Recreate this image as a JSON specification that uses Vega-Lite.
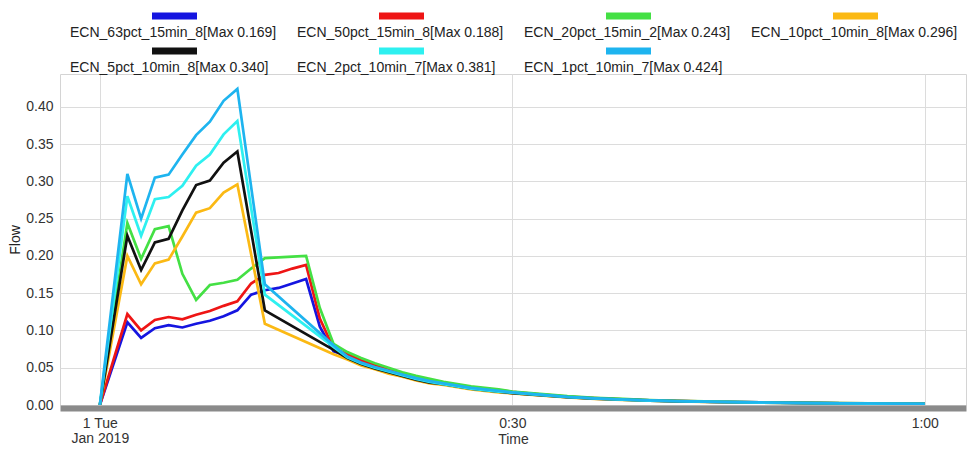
{
  "$schema": "https://vega.github.io/schema/vega-lite/v6.json",
  "width": 906,
  "height": 331,
  "autosize": {"type": "none"},
  "padding": {"left": 60, "top": 74, "right": 3, "bottom": 46},
  "background": "white",
  "config": {"view": {"stroke": "#d4d4d4"}, "font": "Liberation Sans"},
  "datasets": {
    "names": [
      {"k": "a", "name": "ECN_63pct_15min_8[Max 0.169]"},
      {"k": "b", "name": "ECN_50pct_15min_8[Max 0.188]"},
      {"k": "c", "name": "ECN_20pct_15min_2[Max 0.243]"},
      {"k": "d", "name": "ECN_10pct_10min_8[Max 0.296]"},
      {"k": "e", "name": "ECN_5pct_10min_8[Max 0.340]"},
      {"k": "f", "name": "ECN_2pct_10min_7[Max 0.381]"},
      {"k": "g", "name": "ECN_1pct_10min_7[Max 0.424]"}
    ]
  },
  "data": {
    "values": [
      {"t": 0, "a": 0, "b": 0, "c": 0, "d": 0, "e": 0, "f": 0, "g": 0},
      {"t": 2, "a": 0.111, "b": 0.122, "c": 0.244, "d": 0.200, "e": 0.227, "f": 0.280, "g": 0.310},
      {"t": 3, "a": 0.090, "b": 0.100, "c": 0.196, "d": 0.162, "e": 0.181, "f": 0.227, "g": 0.250},
      {"t": 4, "a": 0.103, "b": 0.114, "c": 0.236, "d": 0.190, "e": 0.218, "f": 0.276, "g": 0.305},
      {"t": 5, "a": 0.107, "b": 0.118, "c": 0.240, "d": 0.195, "e": 0.223, "f": 0.279, "g": 0.309},
      {"t": 6, "a": 0.104, "b": 0.115, "c": 0.176, "d": 0.226, "e": 0.261, "f": 0.294, "g": 0.336},
      {"t": 7, "a": 0.109, "b": 0.121, "c": 0.141, "d": 0.258, "e": 0.295, "f": 0.321, "g": 0.362},
      {"t": 8, "a": 0.113, "b": 0.126, "c": 0.161, "d": 0.264, "e": 0.301, "f": 0.336, "g": 0.380},
      {"t": 9, "a": 0.119, "b": 0.133, "c": 0.164, "d": 0.285, "e": 0.325, "f": 0.363, "g": 0.408},
      {"t": 10, "a": 0.127, "b": 0.139, "c": 0.168, "d": 0.296, "e": 0.340, "f": 0.381, "g": 0.424},
      {"t": 11, "a": 0.148, "b": 0.163, "c": 0.183, "d": null, "e": null, "f": null, "g": null},
      {"t": 12, "a": 0.154, "b": 0.1745, "c": 0.197, "d": 0.109, "e": 0.127, "f": 0.148, "g": 0.162},
      {"t": 13, "a": 0.157, "b": 0.177, "c": 0.198, "d": null, "e": null, "f": null, "g": null},
      {"t": 14, "a": 0.163, "b": 0.183, "c": 0.199, "d": null, "e": null, "f": null, "g": null},
      {"t": 15, "a": 0.169, "b": 0.188, "c": 0.200, "d": null, "e": null, "f": null, "g": null},
      {"t": 16, "a": 0.105, "b": 0.116, "c": 0.130, "d": null, "e": null, "f": null, "g": null},
      {"t": 17, "a": 0.072, "b": 0.076, "c": 0.082, "d": 0.068, "e": 0.074, "f": 0.078, "g": 0.080},
      {"t": 18, "a": 0.066, "b": 0.068, "c": 0.071, "d": 0.061, "e": 0.063, "f": 0.064, "g": 0.065},
      {"t": 19, "a": 0.058, "b": 0.060, "c": 0.063, "d": 0.053, "e": 0.055, "f": 0.056, "g": 0.057},
      {"t": 20, "a": 0.052, "b": 0.054, "c": 0.056, "d": 0.048, "e": 0.049, "f": 0.050, "g": 0.051},
      {"t": 21, "a": 0.046, "b": 0.047, "c": 0.050, "d": 0.042, "e": 0.044, "f": 0.045, "g": 0.046},
      {"t": 22, "a": 0.041, "b": 0.042, "c": 0.044, "d": 0.038, "e": 0.039, "f": 0.040, "g": 0.041},
      {"t": 23, "a": 0.036, "b": 0.037, "c": 0.039, "d": 0.033, "e": 0.034, "f": 0.035, "g": 0.036},
      {"t": 24, "a": 0.032, "b": 0.033, "c": 0.035, "d": 0.029, "e": 0.030, "f": 0.031, "g": 0.032},
      {"t": 25, "a": 0.029, "b": 0.030, "c": 0.031, "d": 0.027, "e": 0.028, "f": 0.028, "g": 0.029},
      {"t": 26, "a": 0.026, "b": 0.027, "c": 0.028, "d": 0.024, "e": 0.025, "f": 0.025, "g": 0.026},
      {"t": 27, "a": 0.023, "b": 0.024, "c": 0.025, "d": 0.021, "e": 0.022, "f": 0.022, "g": 0.023},
      {"t": 28, "a": 0.021, "b": 0.022, "c": 0.023, "d": 0.019, "e": 0.020, "f": 0.020, "g": 0.021},
      {"t": 29, "a": 0.019, "b": 0.020, "c": 0.021, "d": 0.017, "e": 0.018, "f": 0.018, "g": 0.019},
      {"t": 30, "a": 0.017, "b": 0.0175, "c": 0.018, "d": 0.0156, "e": 0.016, "f": 0.0165, "g": 0.017},
      {"t": 32, "a": 0.014, "b": 0.0144, "c": 0.0151, "d": 0.0129, "e": 0.0133, "f": 0.0136, "g": 0.0139},
      {"t": 34, "a": 0.011, "b": 0.0113, "c": 0.0119, "d": 0.0101, "e": 0.0105, "f": 0.0107, "g": 0.0109},
      {"t": 36, "a": 0.009, "b": 0.0093, "c": 0.0097, "d": 0.0083, "e": 0.0086, "f": 0.0087, "g": 0.0089},
      {"t": 38, "a": 0.0075, "b": 0.0077, "c": 0.0081, "d": 0.0069, "e": 0.0071, "f": 0.0073, "g": 0.0074},
      {"t": 40, "a": 0.0062, "b": 0.0064, "c": 0.0067, "d": 0.0057, "e": 0.0059, "f": 0.006, "g": 0.0061},
      {"t": 42, "a": 0.0052, "b": 0.0054, "c": 0.0056, "d": 0.0048, "e": 0.0049, "f": 0.005, "g": 0.0051},
      {"t": 45, "a": 0.0042, "b": 0.0043, "c": 0.0045, "d": 0.0039, "e": 0.004, "f": 0.0041, "g": 0.0042},
      {"t": 48, "a": 0.0034, "b": 0.0035, "c": 0.0037, "d": 0.0031, "e": 0.0032, "f": 0.0033, "g": 0.0034},
      {"t": 52, "a": 0.0026, "b": 0.0027, "c": 0.0028, "d": 0.0024, "e": 0.0025, "f": 0.0025, "g": 0.0026},
      {"t": 56, "a": 0.002, "b": 0.0021, "c": 0.0022, "d": 0.0018, "e": 0.0019, "f": 0.0019, "g": 0.002},
      {"t": 60, "a": 0.0016, "b": 0.0016, "c": 0.0017, "d": 0.0015, "e": 0.0015, "f": 0.0015, "g": 0.0016}
    ]
  },
  "transform": [
    {"fold": ["a", "b", "c", "d", "e", "f", "g"], "as": ["k", "v"]},
    {"filter": "isValid(datum.v)"},
    {"lookup": "k", "from": {"data": {"name": "names"}, "key": "k", "fields": ["name"]}}
  ],
  "mark": {"type": "line", "strokeWidth": 2.7, "clip": true},
  "encoding": {
    "x": {
      "field": "t",
      "type": "quantitative",
      "scale": {"domain": [-2.9, 63], "nice": false, "zero": false},
      "axis": {
        "values": [0, 30, 60],
        "labelExpr": "datum.value == 0 ? ['1 Tue', 'Jan 2019'] : (datum.value == 30 ? '0:30' : '1:00')",
        "title": "Time",
        "grid": true,
        "gridColor": "#dcdcdc",
        "domainColor": "#8a8a8a",
        "domainWidth": 6,
        "offset": 3,
        "ticks": false,
        "labelPadding": 8,
        "labelFontSize": 14,
        "labelLineHeight": 15,
        "labelColor": "#333333",
        "titleFontSize": 14,
        "titleFontWeight": "normal",
        "titleColor": "#333333",
        "titleBaseline": "top",
        "titleY": 24
      }
    },
    "y": {
      "field": "v",
      "type": "quantitative",
      "scale": {"domain": [0, 0.444], "nice": false},
      "axis": {
        "values": [0, 0.05, 0.1, 0.15, 0.2, 0.25, 0.3, 0.35, 0.4],
        "format": ".2f",
        "grid": true,
        "gridColor": "#dcdcdc",
        "domain": false,
        "ticks": false,
        "labelPadding": 7,
        "labelFontSize": 14,
        "labelColor": "#333333",
        "title": "Flow",
        "titleFontSize": 14,
        "titleFontWeight": "normal",
        "titleColor": "#222222",
        "titlePadding": 3
      }
    },
    "color": {
      "field": "name",
      "type": "nominal",
      "sort": null,
      "scale": {
        "domain": [
          "ECN_63pct_15min_8[Max 0.169]",
          "ECN_50pct_15min_8[Max 0.188]",
          "ECN_20pct_15min_2[Max 0.243]",
          "ECN_10pct_10min_8[Max 0.296]",
          "ECN_5pct_10min_8[Max 0.340]",
          "ECN_2pct_10min_7[Max 0.381]",
          "ECN_1pct_10min_7[Max 0.424]"
        ],
        "range": ["#1515e0", "#ee1515", "#44e044", "#fbb914", "#111111", "#2ef0f0", "#1eb4ef"]
      },
      "legend": {
        "orient": "none",
        "direction": "horizontal",
        "legendX": -6,
        "legendY": -48,
        "columns": 4,
        "title": null,
        "symbolType": "M91,-17H136",
        "symbolSize": 4,
        "symbolStrokeWidth": 7,
        "labelFontSize": 14,
        "labelLimit": 400,
        "labelColor": "#222222",
        "columnPadding": 4,
        "rowPadding": -3,
        "labelOffset": 2
      }
    }
  }
}
